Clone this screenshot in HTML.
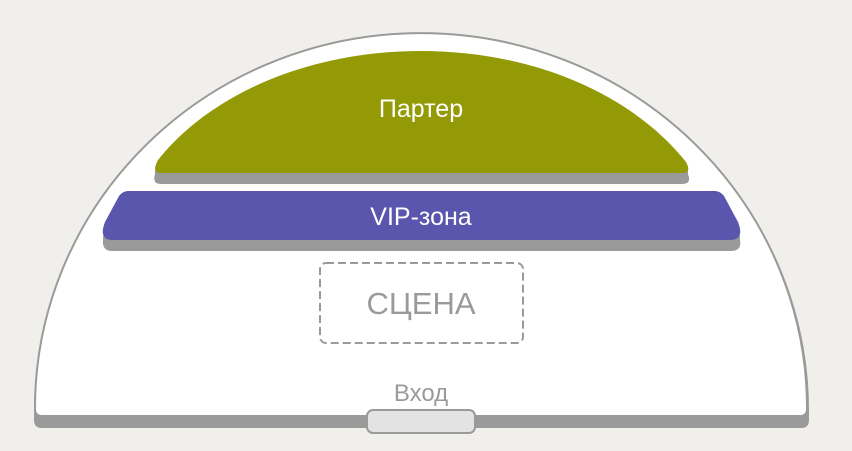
<!DOCTYPE html>
<html><head><meta charset="utf-8"><style>
html,body{margin:0;padding:0;background:#f0efeb;}
svg{display:block;}
text{font-family:"Liberation Sans",sans-serif;}
</style></head><body>
<svg width="852" height="451" viewBox="0 0 852 451" xmlns="http://www.w3.org/2000/svg">
<rect width="852" height="451" fill="#f0efeb"/>
<!-- outer shadow -->
<path d="M34,420 L34,410 A387,375 0 0 1 809,410 L809,420 Q809,428 801,428 L42,428 Q34,428 34,420 Z" fill="#9a9a9a"/>
<path d="M35,408 A386,375 0 0 1 807,408 L807,409 Q807,416 800,416 L42,416 Q35,416 35,409 Z" fill="#fff" stroke="#9a9a9a" stroke-width="2"/>
<!-- parterre -->
<path d="M161,184 L682,184 Q692,184 688,174 L688,170 L155,170 L155,174 Q152,184 161,184 Z" fill="#9a9a9a"/>
<path d="M161,173 L682,173 Q692,173 686,162 C630,92 530,51 421,51 C312,51 212,92 158,160 Q151,173 161,173 Z" fill="#949a06"/>
<text x="421" y="117" font-size="25" fill="#fff" text-anchor="middle">Партер</text>
<!-- VIP -->
<path d="M112,251 L731,251 Q742,251 740,240 L740,236 L103,236 L103,240 Q102,251 112,251 Z" fill="#9a9a9a"/>
<path d="M128,191 L715,191 Q720,191 724,196 L738,222 Q745,240 730,240 L113,240 Q98,240 105,222 L119,196 Q123,191 128,191 Z" fill="#5b56ad"/>
<text x="421" y="225" font-size="25" fill="#fff" text-anchor="middle">VIP-зона</text>
<!-- stage -->
<rect x="320" y="263" width="203" height="80" rx="6" fill="none" stroke="#9a9a9a" stroke-width="2" stroke-dasharray="8,4"/>
<text x="421" y="314" font-size="31" fill="#9a9a9a" text-anchor="middle">СЦЕНА</text>
<!-- entrance -->
<text x="421" y="401" font-size="24" fill="#9a9a9a" text-anchor="middle">Вход</text>
<rect x="367" y="410" width="108" height="23" rx="6" fill="#e3e3e3" stroke="#9a9a9a" stroke-width="2"/>
</svg>
</body></html>
